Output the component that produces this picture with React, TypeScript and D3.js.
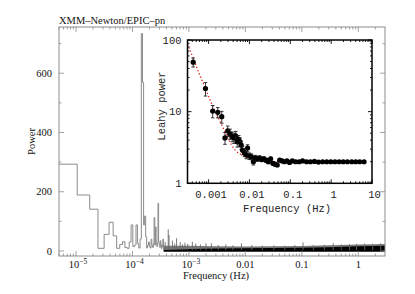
import React from 'react';
import * as d3 from 'd3';

const W = 415;
const H = 294;

// ---- main periodogram (linear frequency bins of width DF) ----
const DF = 7.0e-6;
const binPower = [
  293, 189, 141, 9, 56, 97, 51, 9, 22, 31,
  12, 9, 30, 88, 15, 20, 88, 25, 10, 40,
  734, 569, 88, 118, 48, 10, 20, 30, 15, 10,
  40, 20, 12, 25, 113, 20, 81, 30, 15, 25,
  161, 30, 20, 12, 35, 18, 8, 22, 15, 40,
];
// isolated spikes above the dense noise at higher frequencies
const spikeFreq = [3.8e-4, 4.3e-4, 4.45e-4, 5.1e-4, 5.6e-4, 6.05e-4, 7e-4, 7.7e-4, 8.5e-4, 9.5e-4, 1.15e-3, 1.32e-3, 1.6e-3, 2.0e-3, 2.5e-3, 3.3e-3, 4.5e-3, 6e-3, 8.5e-3, 1.3e-2, 2e-2, 3.2e-2, 5e-2, 7.5e-2, 0.105, 0.16, 0.25, 0.36, 0.5, 0.7, 0.93, 1.3, 1.8, 2.5];
const spikePower = [30, 73, 54, 35, 25, 43, 30, 22, 28, 24, 31, 25, 22, 26, 26, 20, 22, 19, 26, 20, 18, 19, 18, 20, 29, 20, 21, 26, 22, 23, 24, 25, 24, 26];
// dense noise band envelope (power)
const bandFreq = [3.57e-4, 6e-4, 1e-3, 3e-3, 0.01, 0.03, 0.1, 0.3, 1, 2.97];
const bandCore = [3, 5, 7, 8, 9, 10, 11, 13, 16, 18];
const bandFuzz = [18, 18, 18, 16, 15, 16, 17, 19, 22, 24];

const mainXTicks = [1e-5, 1e-4, 1e-3, 0.01, 0.1, 1];
const mainXLabels = ['10^−5', '10^−4', '10^−3', '0.01', '0.1', '1'];
const mainYTicks = [0, 200, 400, 600];

// ---- inset: averaged Leahy-normalised PSD ----
const insetFreq = [
  4.2e-4, 8.4e-4, 1.26e-3, 1.68e-3, 2.1e-3, 2.52e-3, 2.94e-3, 3.36e-3, 3.78e-3, 4.2e-3,
  4.62e-3, 5.04e-3, 5.46e-3, 5.88e-3, 6.3e-3, 6.8e-3, 7.6e-3, 8.4e-3, 9.0e-3, 1.0e-2,
  1.11e-2, 1.25e-2, 1.4e-2, 1.58e-2, 1.78e-2, 2.0e-2, 2.25e-2, 2.55e-2, 2.9e-2, 3.3e-2,
  3.75e-2, 4.25e-2, 4.8e-2, 5.5e-2, 6.3e-2, 7.2e-2, 8.3e-2, 9.6e-2, 0.112, 0.135,
  0.165, 0.2, 0.25, 0.31, 0.39, 0.49, 0.62, 0.78, 0.98, 1.24,
  1.57, 1.98, 2.5, 3.2, 4.0, 5.0, 6.4,
];
const insetPower = [
  49, 21, 10.2, 9.8, 8.5, 4.3, 5.4, 4.9, 4.5, 4.3,
  4.6, 3.8, 4.1, 3.8, 3.4, 2.9, 2.7, 2.5, 3.1, 2.4,
  2.35, 2.0, 2.25, 2.2, 2.25, 2.15, 2.2, 2.1, 2.0, 2.2,
  1.9, 1.85, 1.8, 2.1, 2.05, 2.0, 2.05, 1.95, 2.05, 2.0,
  2.0, 2.05, 2.0, 2.0, 2.02, 1.98, 2.0, 2.0, 2.0, 2.0,
  2.0, 2.0, 2.0, 2.0, 2.0, 2.0, 2.0,
];
const insetErr = [
  7, 4.5, 2, 1.6, 1.6, 0.8, 0.9, 0.8, 0.7, 0.7,
  0.7, 0.6, 0.55, 0.5, 0.45, 0.4, 0.35, 0.3, 0.35, 0.25,
  0.22, 0.2, 0.2, 0.18, 0.16, 0.15, 0.14, 0.13, 0.12, 0.11,
  0.1, 0.1, 0.09, 0.09, 0.08, 0.08, 0.07, 0.07, 0.06, 0.06,
  0.06, 0.05, 0.05, 0.05, 0.05, 0.05, 0.05, 0.05, 0.05, 0.05,
  0.05, 0.05, 0.05, 0.05, 0.05, 0.05, 0.05,
];
// fitted model (red dotted)
const modelFreq = [3.05e-4, 4.2e-4, 6e-4, 8.4e-4, 1.26e-3, 2.1e-3, 3e-3, 4.5e-3, 7e-3, 1e-2, 2e-2, 5e-2, 1, 7.6];
const modelPower = [88, 56, 33, 21, 12, 6.5, 4.2, 2.9, 2.45, 2.2, 2.05, 2.0, 2.0, 2.0];

const insetXTicks = [0.001, 0.01, 0.1, 1, 10];
const insetXLabels = ['0.001', '0.01', '0.1', '1', '10'];
const insetYTicks = [1, 10, 100];
const insetYLabels = ['1', '10', '100'];

function logTicks(lo: number, hi: number) {
  const out: { v: number; major: boolean }[] = [];
  for (let e = Math.floor(Math.log10(lo)); e <= Math.ceil(Math.log10(hi)); e++) {
    for (let m = 1; m <= 9; m++) {
      const v = m * Math.pow(10, e);
      if (v >= lo * 0.999 && v <= hi * 1.001) out.push({ v, major: m === 1 });
    }
  }
  return out;
}

const SERIF = '"Liberation Serif", "DejaVu Serif", serif';
const MONO = '"Liberation Mono", "DejaVu Sans Mono", monospace';

export default function App() {
  // main axes
  const M = { l: 59, r: 385, t: 27, b: 256 };
  const mx = d3.scaleLog().domain([5.0e-6, 2.97]).range([M.l, M.r]);
  const my = d3.scaleLinear().domain([-16.9, 756]).range([M.b, M.t]);
  // inset axes
  const I = { l: 187.5, r: 372, t: 40, b: 183.3 };
  const ix = d3.scaleLog().domain([3.05e-4, 10]).range([I.l, I.r]);
  const iy = d3.scaleLog().domain([1, 100]).range([I.b, I.t]);

  // step histogram path
  let step = '';
  binPower.forEach((p, i) => {
    const k = i + 1;
    const x0 = mx(Math.max((k - 0.5) * DF, 4e-6));
    const x1 = mx((k + 0.5) * DF);
    step += (i === 0 ? `M${x0},${my(p)}` : `V${my(p)}`) + `H${x1}`;
  });
  step += `V${my(bandCore[0])}`;

  const fuzzArea = d3.area<number>()
    .x((_, i) => mx(bandFreq[i]))
    .y0(() => my(0))
    .y1((_, i) => my(bandFuzz[i]));
  const coreArea = d3.area<number>()
    .x((_, i) => mx(bandFreq[i]))
    .y0(() => my(0) + 0.8)
    .y1((_, i) => my(bandCore[i]));

  const modelLine = d3.line<number>()
    .x((_, i) => ix(modelFreq[i]))
    .y((_, i) => iy(modelPower[i]))
    .curve(d3.curveMonotoneX);

  const mainXMinor = logTicks(5.0e-6, 2.97);
  const mainYMinor = d3.range(0, 701, 100);
  const insXMinor = logTicks(3.05e-4, 10);
  const insYMinor = logTicks(1, 100);

  const gray = '#8c8c8c';

  return (
    <svg width={W} height={H} style={{ position: 'absolute', left: 0, top: 0, background: '#fff' }}>
      <defs>
        <clipPath id="mainClip">
          <rect x={M.l} y={M.t} width={M.r - M.l} height={M.b - M.t} />
        </clipPath>
      </defs>
      <rect x={0} y={0} width={W} height={H} fill="#fff" />

      {/* main data */}
      <g clipPath="url(#mainClip)">
        <path d={step} fill="none" stroke="#8a8a8a" strokeWidth={1} />
        <path d={fuzzArea(bandFreq) || ''} fill="#7a7a7a" />
        <path d={coreArea(bandFreq) || ''} fill="#000" />
        {spikeFreq.map((f, i) => (
          <line key={i} x1={mx(f)} x2={mx(f)} y1={my(3)} y2={my(spikePower[i])} stroke="#666" strokeWidth={0.9} />
        ))}
      </g>

      {/* main frame & ticks */}
      <rect x={M.l} y={M.t} width={M.r - M.l} height={M.b - M.t} fill="none" stroke={gray} strokeWidth={1} />
      {mainXMinor.map((t, i) => {
        const x = mx(t.v);
        const len = t.major ? 5 : 2.5;
        return (
          <g key={i} stroke={gray} strokeWidth={0.8}>
            <line x1={x} x2={x} y1={M.b} y2={M.b - len} />
            <line x1={x} x2={x} y1={M.t} y2={M.t + len} />
          </g>
        );
      })}
      {mainYMinor.map((v, i) => {
        const y = my(v);
        const len = v % 200 === 0 ? 5 : 2.5;
        return (
          <g key={i} stroke={gray} strokeWidth={0.8}>
            <line x1={M.l} x2={M.l + len} y1={y} y2={y} />
            <line x1={M.r} x2={M.r - len} y1={y} y2={y} />
          </g>
        );
      })}
      {mainXTicks.map((v, i) => {
        const lab = mainXLabels[i];
        const parts = lab.split('^');
        return (
          <text key={i} x={mx(v) + (parts.length > 1 ? 2 : 0)} y={268} textAnchor="middle" fontFamily={SERIF} fontSize={10.5} fill="#111">
            {parts[0]}
            {parts.length > 1 && (
              <tspan dy={-4} fontSize={7.5}>{parts[1]}</tspan>
            )}
          </text>
        );
      })}
      {mainYTicks.map((v, i) => (
        <text key={i} x={52} y={my(v) + 3.6} textAnchor="end" fontFamily={SERIF} fontSize={10.5} fill="#111">{v}</text>
      ))}
      <text x={216} y={279} textAnchor="middle" fontFamily={SERIF} fontSize={10.5} fill="#111">Frequency (Hz)</text>
      <text transform="translate(35,141.5) rotate(-90)" textAnchor="middle" fontFamily={SERIF} fontSize={10.5} fill="#111">Power</text>
      <text x={59} y={24} fontFamily={SERIF} fontSize={10.5} fill="#111">XMM–Newton/EPIC–pn</text>

      {/* inset */}
      <rect x={I.l} y={I.t} width={I.r - I.l} height={I.b - I.t} fill="#fff" />
      <path d={modelLine(modelFreq) || ''} fill="none" stroke="#e0201b" strokeWidth={1.3} strokeDasharray="1.3,2.2" />
      {insetFreq.map((f, i) => {
        const x = ix(f);
        const p = insetPower[i];
        const e = insetErr[i];
        const y0 = iy(Math.max(p - e, 1.01));
        const y1 = iy(p + e);
        return (
          <g key={i}>
            <line x1={x} x2={x} y1={y0} y2={y1} stroke="#222" strokeWidth={0.9} />
            <line x1={x - 1.8} x2={x + 1.8} y1={y0} y2={y0} stroke="#222" strokeWidth={0.9} />
            <line x1={x - 1.8} x2={x + 1.8} y1={y1} y2={y1} stroke="#222" strokeWidth={0.9} />
            <circle cx={x} cy={iy(p)} r={2.6} fill="#000" />
          </g>
        );
      })}
      <rect x={I.l} y={I.t} width={I.r - I.l} height={I.b - I.t} fill="none" stroke="#000" strokeWidth={1.5} />
      {insXMinor.map((t, i) => {
        const x = ix(t.v);
        const len = t.major ? 4 : 2;
        return (
          <g key={i} stroke="#000" strokeWidth={0.9}>
            <line x1={x} x2={x} y1={I.b} y2={I.b - len} />
            <line x1={x} x2={x} y1={I.t} y2={I.t + len} />
          </g>
        );
      })}
      {insYMinor.map((t, i) => {
        const y = iy(t.v);
        const len = t.major ? 4 : 2;
        return (
          <g key={i} stroke="#000" strokeWidth={0.9}>
            <line x1={I.l} x2={I.l + len} y1={y} y2={y} />
            <line x1={I.r} x2={I.r - len} y1={y} y2={y} />
          </g>
        );
      })}
      {insetXTicks.map((v, i) => (
        <text key={i} x={ix(v) + 2.5} y={197.5} textAnchor="middle" fontFamily={MONO} fontSize={10.5} fill="#222">{insetXLabels[i]}</text>
      ))}
      {insetYTicks.map((v, i) => (
        <text key={i} x={181.5} y={iy(v) + 3.6} textAnchor="end" fontFamily={MONO} fontSize={10.5} fill="#222">{insetYLabels[i]}</text>
      ))}
      <text x={287} y={211.5} textAnchor="middle" fontFamily={MONO} fontSize={10.5} fill="#222">Frequency (Hz)</text>
      <text transform="translate(165,106) rotate(-90)" textAnchor="middle" fontFamily={MONO} fontSize={10.5} fill="#222">Leahy power</text>
    </svg>
  );
}
